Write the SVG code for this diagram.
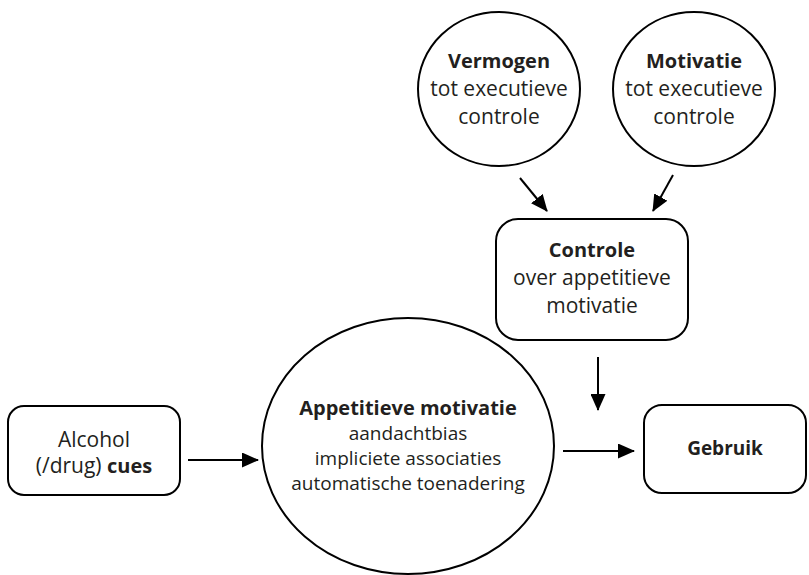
<svg xmlns="http://www.w3.org/2000/svg" width="809" height="575" viewBox="0 0 809 575">
<style>
.s{fill:#fff;stroke:#000;stroke-width:2}
.t{font-family:"Open Sans","Noto Sans",sans-serif;fill:#231f20;text-anchor:middle}
.b{font-weight:bold}
.c{stroke:#000;stroke-width:2;fill:none}
</style>
<defs>
<marker id="ah" markerWidth="17" markerHeight="15" refX="16" refY="7.5" orient="auto" markerUnits="userSpaceOnUse" viewBox="0 0 17 15">
<path d="M0,0 L17,7.5 L0,15 Z" fill="#000"/>
</marker>
</defs>
<rect width="809" height="575" fill="#fff"/>
<g id="connectors">
<line class="c" x1="520" y1="178" x2="547" y2="211" marker-end="url(#ah)"/>
<line class="c" x1="673" y1="175" x2="653" y2="211" marker-end="url(#ah)"/>
<line class="c" x1="598" y1="357" x2="598" y2="410" marker-end="url(#ah)"/>
<line class="c" x1="188" y1="460" x2="258" y2="460" marker-end="url(#ah)"/>
<line class="c" x1="563" y1="451" x2="634" y2="451" marker-end="url(#ah)"/>
</g>
<g id="vermogen">
<ellipse class="s" cx="499" cy="89" rx="81" ry="77"/>
<text class="t" x="499" y="68" font-size="21"><tspan class="b" font-size="20">Vermogen</tspan><tspan x="499" dy="28">tot executieve</tspan><tspan x="499" dy="28">controle</tspan></text>
</g>
<g id="motivatie">
<ellipse class="s" cx="694" cy="89" rx="81" ry="77"/>
<text class="t" x="694" y="68" font-size="21"><tspan class="b" font-size="20">Motivatie</tspan><tspan x="694" dy="28">tot executieve</tspan><tspan x="694" dy="28">controle</tspan></text>
</g>
<g id="controle">
<rect class="s" x="496" y="219" width="192" height="121" rx="22"/>
<text class="t" x="592" y="257" font-size="21"><tspan class="b" font-size="20">Controle</tspan><tspan x="592" dy="28">over appetitieve</tspan><tspan x="592" dy="28">motivatie</tspan></text>
</g>
<g id="alcohol">
<rect class="s" x="8" y="406" width="172" height="89" rx="16"/>
<text class="t" x="94" y="447" font-size="21">Alcohol<tspan x="94" dy="26">(/drug) <tspan class="b" font-size="20">cues</tspan></tspan></text>
</g>
<g id="appetitieve">
<ellipse class="s" cx="408" cy="446" rx="146" ry="128"/>
<text class="t" x="408" y="415" font-size="19"><tspan class="b" font-size="20">Appetitieve motivatie</tspan><tspan x="408" dy="25">aandachtbias</tspan><tspan x="408" dy="25">impliciete associaties</tspan><tspan x="408" dy="25">automatische toenadering</tspan></text>
</g>
<g id="gebruik">
<rect class="s" x="644" y="405" width="162" height="88" rx="18"/>
<text class="t b" x="725" y="455" font-size="19">Gebruik</text>
</g>
</svg>
